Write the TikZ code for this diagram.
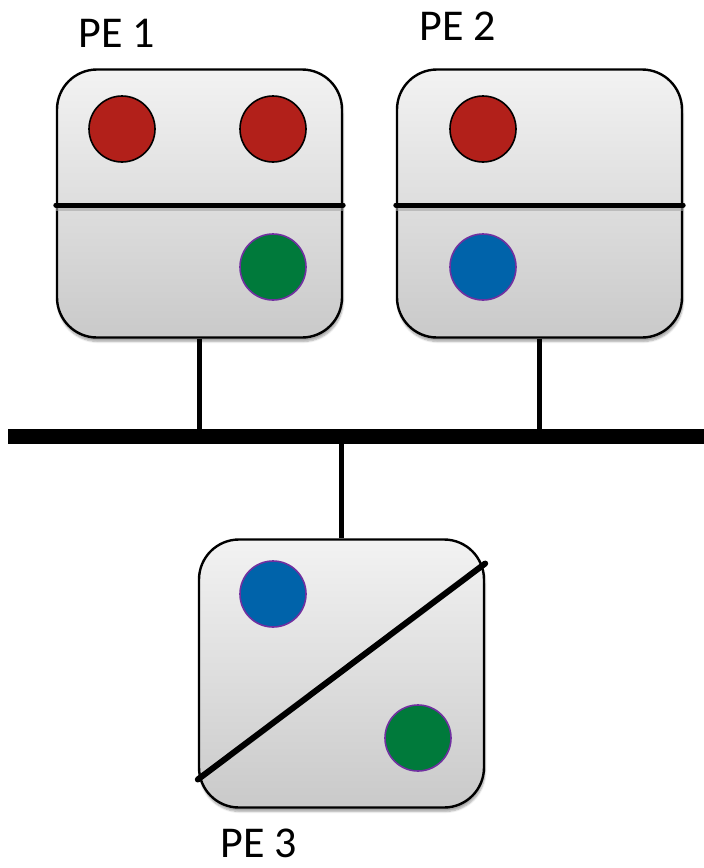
\documentclass[tikz,border=0pt]{standalone}
\usepackage{fontspec}
\setmainfont{Carlito}
\usepackage{xcolor}
\definecolor{tokred}{HTML}{B2201A}
\definecolor{tokgreen}{HTML}{007A3B}
\definecolor{tokblue}{HTML}{0063AA}
\definecolor{ringviolet}{HTML}{7030A0}
\usepackage{tikz}
\usetikzlibrary{positioning,shadows.blur}

\tikzset{
  pebox/.style={draw=black, line width=2.4pt, rounded corners=40pt,
    minimum width=285pt, minimum height=268pt, inner sep=0pt,
    top color=black!5, bottom color=black!21,
    blur shadow={shadow xshift=1pt, shadow yshift=-4pt,
      shadow blur steps=6, shadow opacity=35}},
  token/.style={circle, minimum size=66pt, inner sep=0pt, line width=1.6pt},
  pelabel/.style={font=\fontsize{44}{52}\selectfont, inner sep=0pt},
  link/.style={line width=5pt},
  split/.style={line width=5pt, line cap=round},
}

\begin{document}
\begin{tikzpicture}[x=1pt, y=-1pt]
    \useasboundingbox (0,0) rectangle (704,868);

    % Processing elements
    \node[pebox] (pe1) at (199.5,203.5) {};
    \node[pebox] (pe2) at (539.5,203.5) {};
    \node[pebox] (pe3) at (341.5,673.5) {};

    % Partition lines (with a faint shade under the horizontal ones)
    \draw[black!35, line width=3pt, opacity=0.6] ([yshift=-6pt]pe1.west) -- ([yshift=-6pt]pe1.east);
    \draw[black!35, line width=3pt, opacity=0.6] ([yshift=-6pt]pe2.west) -- ([yshift=-6pt]pe2.east);
    \draw[split] ([yshift=-1.5pt]pe1.west) -- ([yshift=-1.5pt]pe1.east);
    \draw[split] ([yshift=-1.5pt]pe2.west) -- ([yshift=-1.5pt]pe2.east);
    \draw[split, line width=6pt] ([yshift=-106pt]pe3.west) -- ([yshift=110pt]pe3.east);

    % Tokens in PE 1
    \node[token, draw=black, fill=tokred] (r11) at (122,129) {};
    \node[token, draw=black, fill=tokred] (r12) at (273,129) {};
    \node[token, draw=ringviolet, fill=tokgreen] (g1) at (273,267) {};

    % Tokens in PE 2
    \node[token, draw=black, fill=tokred] (r21) at (483,129) {};
    \node[token, draw=ringviolet, fill=tokblue] (b2) at (483,267) {};

    % Tokens in PE 3
    \node[token, draw=ringviolet, fill=tokblue] (b3) at (273,594) {};
    \node[token, draw=ringviolet, fill=tokgreen] (g3) at (418,738) {};

    % Shared bus
    \coordinate (busL) at (8,436);
    \coordinate (busR) at (704,436);
    \draw[link] (pe1.south) -- (pe1.south |- busL);
    \draw[link] (pe2.south) -- (pe2.south |- busL);
    \draw[link] (pe3.north) -- (pe3.north |- busL);
    \draw[line width=15pt] (busL) -- (busR);

    % Labels
    \node[pelabel] (lab1) at (117,33) {PE 1};
    \node[pelabel] (lab2) at (458,26) {PE 2};
    \node[pelabel] (lab3) at (259,843) {PE 3};
\end{tikzpicture}
\end{document}
